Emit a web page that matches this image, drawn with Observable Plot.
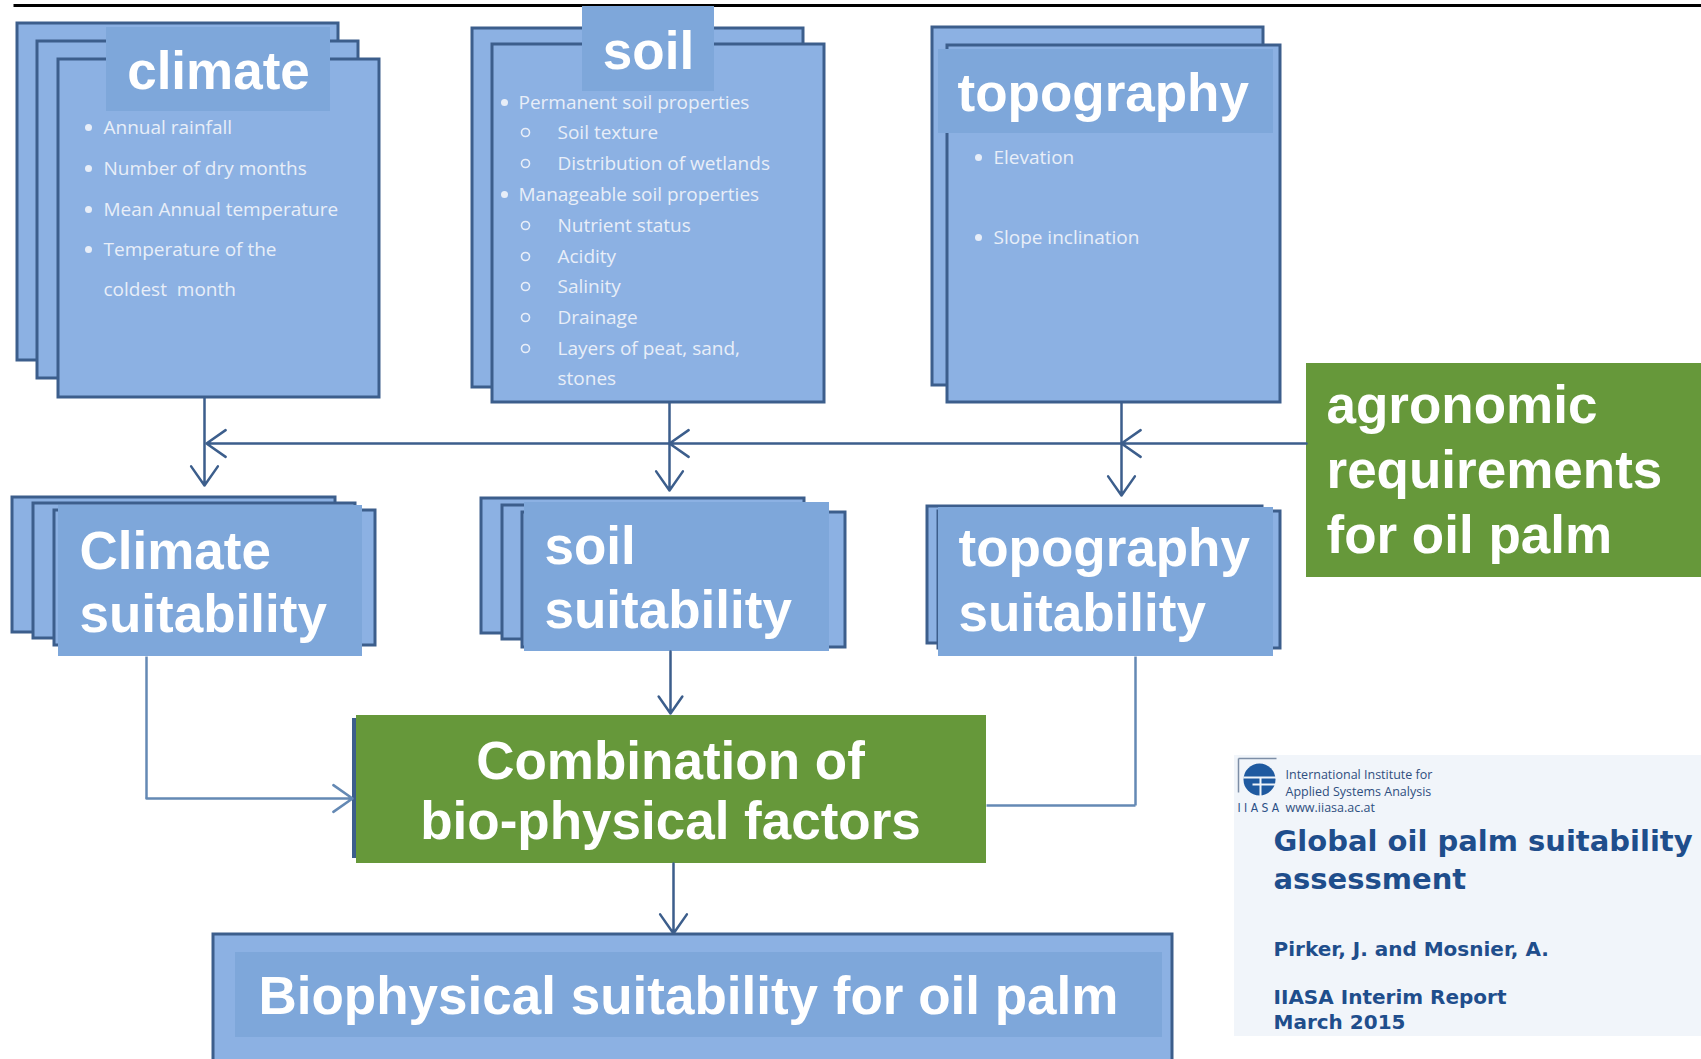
<!DOCTYPE html>
<html><head><meta charset="utf-8">
<script src="https://cdn.jsdelivr.net/npm/d3@7"></script>
<script src="https://cdn.jsdelivr.net/npm/@observablehq/plot@0.6"></script>
<style>html,body{margin:0;padding:0;background:#fff;} #chart svg{display:block}</style>
</head><body><div id="chart"></div>
<script>
// ---- content ----
const climateFactors = ["Annual rainfall", "Number of dry months", "Mean Annual temperature", "Temperature of the", "coldest  month"];
const soilFactors = [
  ["Permanent soil properties", 1], ["Soil texture", 2], ["Distribution of wetlands", 2],
  ["Manageable soil properties", 1], ["Nutrient status", 2], ["Acidity", 2], ["Salinity", 2],
  ["Drainage", 2], ["Layers of peat, sand,", 2], ["stones", 3]
];
const topoFactors = ["Elevation", "Slope inclination"];
const reportLines = ["Global oil palm suitability", "assessment", "Pirker, J. and Mosnier, A.", "IIASA Interim Report", "March 2015"];
const instituteLines = ["International Institute for", "Applied Systems Analysis", "www.iiasa.ac.at"];

// ---- layout (pixel frame of the diagram) ----
const sheets = [
  {x1:17,x2:338,y1:23,y2:360},{x1:37,x2:358,y1:41,y2:378},{x1:58,x2:379,y1:59,y2:397},
  {x1:472,x2:803,y1:28,y2:387},{x1:492,x2:824,y1:44,y2:402},
  {x1:932,x2:1263,y1:27,y2:385},{x1:947,x2:1280,y1:45,y2:402},
  {x1:12,x2:335,y1:497,y2:632},{x1:33,x2:355,y1:503,y2:638},{x1:54,x2:375,y1:510,y2:645},
  {x1:481,x2:804,y1:498,y2:633},{x1:502,x2:824,y1:505,y2:639},{x1:522,x2:845,y1:512,y2:647},
  {x1:927,x2:1262,y1:506,y2:643},{x1:938,x2:1280,y1:511,y2:648},
  {x1:213,x2:1172,y1:934,y2:1075}
];
const heads = [
  {x1:106,x2:330,y1:27,y2:111},{x1:582,x2:714,y1:6,y2:91},{x1:938,x2:1273,y1:49,y2:133},
  {x1:58,x2:362,y1:505,y2:656},{x1:524,x2:829,y1:502,y2:651},{x1:938,x2:1273,y1:507,y2:656},
  {x1:235,x2:1162,y1:952,y2:1037}
];
const greenBoxes = [{x1:1306,x2:1702,y1:363,y2:577},{x1:356,x2:986,y1:715,y2:863}];
const greenBack = [{x1:352,x2:980,y1:718,y2:858}];
const paper = [{x1:1234,x2:1702,y1:755,y2:1036}];

const titles = [
  {x:218,y:88,t:"climate",a:"middle"},{x:648,y:68,t:"soil",a:"middle"},{x:957,y:110,t:"topography",a:"start"},
  {x:79,y:568,t:"Climate",a:"start"},{x:79,y:631,t:"suitability",a:"start"},
  {x:544,y:563,t:"soil",a:"start"},{x:544,y:627,t:"suitability",a:"start"},
  {x:958,y:565,t:"topography",a:"start"},{x:958,y:630,t:"suitability",a:"start"},
  {x:1326,y:422,t:"agronomic",a:"start"},{x:1326,y:487,t:"requirements",a:"start"},{x:1326,y:552,t:"for oil palm",a:"start"},
  {x:670,y:778,t:"Combination of",a:"middle"},{x:670,y:838,t:"bio-physical factors",a:"middle"},
  {x:258,y:1013,t:"Biophysical suitability for oil palm",a:"start"}
];

const climateRows = [127,168,209,249,289];
const soilRows = [102,132,163,194,225,256,286,317,348,378];
const topoRows = [157,237];

const bulletText = [];
const dotsFilled = [];
const dotsHollow = [];
climateFactors.forEach((t,i)=>{ bulletText.push({x:103,y:climateRows[i]+6,t}); if(i<4) dotsFilled.push({x:88,y:climateRows[i]}); });
soilFactors.forEach(([t,l],i)=>{
  const y = soilRows[i];
  if(l===1){ bulletText.push({x:518,y:y+6,t}); dotsFilled.push({x:504,y}); }
  else { bulletText.push({x:557,y:y+6,t}); if(l===2) dotsHollow.push({x:525,y}); }
});
topoFactors.forEach((t,i)=>{ bulletText.push({x:993,y:topoRows[i]+6,t}); dotsFilled.push({x:978,y:topoRows[i]}); });

const arrows = [
  {x1:204,y1:397,x2:204,y2:485},{x1:669,y1:402,x2:669,y2:490},{x1:1121,y1:402,x2:1121,y2:495},
  {x1:1306,y1:443,x2:1121,y2:443},{x1:1121,y1:443,x2:669,y2:443},{x1:669,y1:443,x2:206,y2:443},
  {x1:670,y1:651,x2:670,y2:713},{x1:673,y1:863,x2:673,y2:933}
];
const lightArrows = [{x1:146,y1:798,x2:352,y2:798}];
const lightLinks = [{x1:146,y1:656,x2:146,y2:798},{x1:1135,y1:656,x2:1135,y2:805},{x1:1135,y1:805,x2:986,y2:805}];
const rule = [{x1:13,y1:5,x2:1701,y2:5}];

const reportPos = [{x:1273,y:850,s:29},{x:1273,y:888,s:29},{x:1273,y:955,s:20},{x:1273,y:1003,s:20},{x:1273,y:1028,s:20}];
const institutePos = [{x:1285,y:778},{x:1285,y:795},{x:1285,y:811}];

const BLUE = "#8cb1e3", HEAD = "#7ea7da", EDGE = "#3c5e8c", GREEN = "#66983a", TXT = "#e8eef8";
const rep = reportLines.map((t,i)=>({...reportPos[i], t}));
const inst = instituteLines.map((t,i)=>({...institutePos[i], t}));

const chart = Plot.plot({
  width: 1701, height: 1059, margin: 0,
  x: {domain: [0, 1701], range: [0, 1701], axis: null},
  y: {domain: [0, 1059], range: [0, 1059], axis: null},
  style: {background: "#ffffff"},
  marks: [
    Plot.link(rule, {x1:"x1",y1:"y1",x2:"x2",y2:"y2",stroke:"#000",strokeWidth:3}),
    Plot.rect(paper, {x1:"x1",x2:"x2",y1:"y1",y2:"y2",fill:"#f1f5fa"}),
    Plot.rect(sheets, {x1:"x1",x2:"x2",y1:"y1",y2:"y2",fill:BLUE,stroke:EDGE,strokeWidth:3}),
    Plot.rect(heads, {x1:"x1",x2:"x2",y1:"y1",y2:"y2",fill:HEAD}),
    Plot.rect(greenBack, {x1:"x1",x2:"x2",y1:"y1",y2:"y2",fill:EDGE}),
    Plot.rect(greenBoxes, {x1:"x1",x2:"x2",y1:"y1",y2:"y2",fill:GREEN}),
    Plot.arrow(arrows, {x1:"x1",y1:"y1",x2:"x2",y2:"y2",stroke:EDGE,strokeWidth:2.5,headLength:14,headAngle:70}),
    Plot.link(lightLinks, {x1:"x1",y1:"y1",x2:"x2",y2:"y2",stroke:"#6489b4",strokeWidth:2.5}),
    Plot.arrow(lightArrows, {x1:"x1",y1:"y1",x2:"x2",y2:"y2",stroke:"#6489b4",strokeWidth:2.5,headLength:14,headAngle:70}),
    Plot.dot(dotsFilled, {x:"x",y:"y",r:3.5,fill:TXT,stroke:null}),
    Plot.dot(dotsHollow, {x:"x",y:"y",r:4,fill:"none",stroke:TXT,strokeWidth:1.6}),
    Plot.text(bulletText, {x:"x",y:"y",text:"t",textAnchor:"start",lineAnchor:"bottom",fontSize:19,fill:TXT,fontFamily:"'Open Sans', Lato, sans-serif"}),
    Plot.text(titles.filter(d=>d.a==="start"), {x:"x",y:"y",text:"t",textAnchor:"start",lineAnchor:"bottom",fontSize:53,fontWeight:"bold",fill:"#fff",fontFamily:"'Liberation Sans', Arial, sans-serif"}),
    Plot.text(titles.filter(d=>d.a==="middle"), {x:"x",y:"y",text:"t",textAnchor:"middle",lineAnchor:"bottom",fontSize:53,fontWeight:"bold",fill:"#fff",fontFamily:"'Liberation Sans', Arial, sans-serif"}),
    // report thumbnail
    Plot.link([{x1:1238,y1:758,x2:1238,y2:792},{x1:1238,y1:758,x2:1276,y2:758}], {x1:"x1",y1:"y1",x2:"x2",y2:"y2",stroke:"#7d8ea6",strokeWidth:1.5}),
    Plot.dot([{x:1259,y:779}], {x:"x",y:"y",r:16,fill:"#1f5aa0"}),
    Plot.link([{x1:1243,y1:777,x2:1276,y2:777},{x1:1252,y1:784,x2:1276,y2:784},{x1:1260,y1:777,x2:1260,y2:796}], {x1:"x1",y1:"y1",x2:"x2",y2:"y2",stroke:"#f1f5fa",strokeWidth:2}),
    Plot.text([{x:1237,y:811,t:"I I A S A"}], {x:"x",y:"y",text:"t",textAnchor:"start",lineAnchor:"bottom",fontSize:12,fill:"#2a4f86",fontFamily:"'DejaVu Sans Condensed', 'DejaVu Sans', sans-serif"}),
    Plot.text(inst, {x:"x",y:"y",text:"t",textAnchor:"start",lineAnchor:"bottom",fontSize:12.5,fill:"#2f4f80",fontFamily:"'Open Sans', sans-serif",style:{letterSpacing:"-0.5px"}}),
    Plot.text(rep.filter(d=>d.s===29), {x:"x",y:"y",text:"t",textAnchor:"start",lineAnchor:"bottom",fontSize:29,fontWeight:"bold",fill:"#1f4e8c",fontFamily:"'DejaVu Sans', sans-serif"}),
    Plot.text(rep.filter(d=>d.s===20), {x:"x",y:"y",text:"t",textAnchor:"start",lineAnchor:"bottom",fontSize:20,fontWeight:"bold",fill:"#1f4e8c",fontFamily:"'DejaVu Sans', sans-serif"})
  ]
});
document.getElementById("chart").appendChild(chart);
</script></body></html>
